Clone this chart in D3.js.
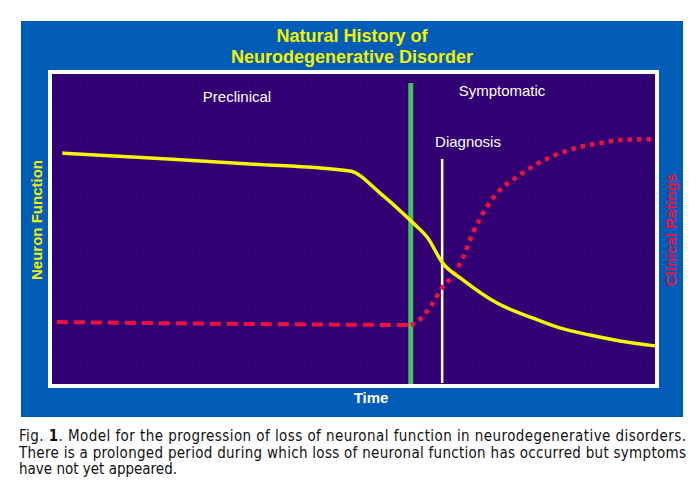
<!DOCTYPE html>
<html>
<head>
<meta charset="utf-8">
<script src="https://cdn.jsdelivr.net/npm/d3@7"></script>
<style>
  html, body { margin: 0; padding: 0; background: #fff; }
  svg { display: block; }
</style>
</head>
<body>
<svg id="chart" width="700" height="495"></svg>
<script>
// ---- Data (x: time 0-100, y: relative level 0-100) ----
const titleLines = ["Natural History of", "Neurodegenerative Disorder"];
const phaseLabels = ["Preclinical", "Symptomatic", "Diagnosis"];
const axisLabels = { x: "Time", yLeft: "Neuron Function", yRight: "Clinical Ratings" };
const captionLines = [
  "Model for the progression of loss of neuronal function in neurodegenerative disorders.",
  "There is a prolonged period during which loss of neuronal function has occurred but symptoms",
  "have not yet appeared."
];

const neuronTime  = [1.7, 16.3, 32.8, 49.4, 54.4, 59.9, 62.2, 64.8, 68.2, 73.8, 79.3, 84.2, 89.2, 94.2, 100];
const neuronValue = [74.5, 72.9, 71.0, 68.7, 61.6, 51.9, 47.4, 39.0, 33.5, 26.1, 21.6, 18.1, 15.8, 13.9, 12.3];

const clinicalPreTime  = [0.8, 24.5, 59.5];
const clinicalPreValue = [20.0, 19.5, 19.0];

const clinicalPostTime  = [59.5, 60.5, 62.7, 64.8, 66.8, 68.2, 69.8, 72.1, 74.3, 77.1, 79.3, 87.6, 90.9, 94.2, 100];
const clinicalPostValue = [19.0, 20.0, 24.8, 31.3, 35.8, 41.0, 48.7, 57.1, 62.6, 66.8, 69.7, 76.5, 77.7, 78.7, 79.0];

const onsetTime = 59.5, onsetTop = 97.1;        // green line (symptom onset)
const diagnosisTime = 64.7, diagnosisTop = 72.6; // white line (diagnosis)

// ---- Drawing ----
const svg = d3.select("#chart");
const defs = svg.append("defs");

const pBlue = defs.append("pattern").attr("id", "dotsBlue").attr("width", 8).attr("height", 8)
  .attr("patternUnits", "userSpaceOnUse");
pBlue.append("rect").attr("width", 8).attr("height", 8).attr("fill", "#005cb6");
pBlue.append("rect").attr("x", 3).attr("y", 3).attr("width", 1).attr("height", 1).attr("fill", "#2f78c4");

const pPurp = defs.append("pattern").attr("id", "dotsPurple").attr("width", 7).attr("height", 7)
  .attr("patternUnits", "userSpaceOnUse");
pPurp.append("rect").attr("width", 7).attr("height", 7).attr("fill", "#310072");
pPurp.append("rect").attr("x", 3).attr("y", 3).attr("width", 1).attr("height", 1).attr("fill", "#3d0a78");

// Blue panel
svg.append("rect").attr("x", 21).attr("y", 21).attr("width", 662).attr("height", 396)
  .attr("fill", "url(#dotsBlue)");

// Title
svg.append("g").selectAll("text").data(titleLines).join("text")
  .attr("x", 352).attr("y", (d, i) => 42 + i * 20.5)
  .attr("text-anchor", "middle")
  .attr("font-family", "'Liberation Sans', Arial, sans-serif")
  .attr("font-weight", "bold").attr("font-size", 18)
  .attr("fill", "#f2f200")
  .text(d => d);

// Plot frame
const plot = { left: 52, right: 655, top: 74, bottom: 384 };
svg.append("rect").attr("x", plot.left - 4).attr("y", plot.top - 4)
  .attr("width", plot.right - plot.left + 8).attr("height", plot.bottom - plot.top + 8)
  .attr("fill", "#ffffff");
svg.append("rect").attr("x", plot.left).attr("y", plot.top)
  .attr("width", plot.right - plot.left).attr("height", plot.bottom - plot.top)
  .attr("fill", "url(#dotsPurple)");

const x = d3.scaleLinear().domain([0, 100]).range([plot.left, plot.right]);
const y = d3.scaleLinear().domain([0, 100]).range([plot.bottom, plot.top]);

const g = svg.append("g");

// Green onset line
g.append("line")
  .attr("x1", x(onsetTime)).attr("x2", x(onsetTime))
  .attr("y1", y(onsetTop)).attr("y2", y(0))
  .attr("stroke", "#46c062").attr("stroke-width", 5);

// White diagnosis line
g.append("line")
  .attr("x1", x(diagnosisTime)).attr("x2", x(diagnosisTime))
  .attr("y1", y(diagnosisTop)).attr("y2", y(0) - 1)
  .attr("stroke", "#ffffff").attr("stroke-width", 2.5);

const line = d3.line().x(d => x(d[0])).y(d => y(d[1])).curve(d3.curveMonotoneX);

// Clinical ratings - dashed part (preclinical)
g.append("path")
  .datum(d3.zip(clinicalPreTime, clinicalPreValue))
  .attr("d", line)
  .attr("fill", "none").attr("stroke", "#ee1040").attr("stroke-width", 4)
  .attr("stroke-dasharray", "11,6");

// Clinical ratings - dotted part (symptomatic)
g.append("path")
  .datum(d3.zip(clinicalPostTime, clinicalPostValue))
  .attr("d", line)
  .attr("fill", "none").attr("stroke", "#ee1040").attr("stroke-width", 4.5)
  .attr("stroke-dasharray", "4.5,5");

// Neuron function - yellow solid
g.append("path")
  .datum(d3.zip(neuronTime, neuronValue))
  .attr("d", line)
  .attr("fill", "none").attr("stroke", "#f6f600").attr("stroke-width", 3.5)
  .attr("stroke-linejoin", "round");

// Phase labels
const labelFont = "'Liberation Sans', Arial, sans-serif";
const labelPos = [[237, 102], [502, 96], [468, 147]];
g.selectAll("text.phase").data(phaseLabels).join("text")
  .attr("class", "phase")
  .attr("x", (d, i) => labelPos[i][0]).attr("y", (d, i) => labelPos[i][1])
  .attr("text-anchor", "middle")
  .attr("font-family", labelFont).attr("font-size", 15)
  .attr("fill", "#ffffff")
  .text(d => d);

// Axis titles
svg.append("text")
  .attr("x", 371).attr("y", 403).attr("text-anchor", "middle")
  .attr("font-family", labelFont).attr("font-weight", "bold").attr("font-size", 15)
  .attr("fill", "#ffffff").text(axisLabels.x);

svg.append("text")
  .attr("transform", "translate(41.5,220) rotate(-90)")
  .attr("text-anchor", "middle")
  .attr("font-family", labelFont).attr("font-weight", "bold").attr("font-size", 15)
  .attr("fill", "#f2f200").text(axisLabels.yLeft);

svg.append("text")
  .attr("transform", "translate(676,230) rotate(-90)")
  .attr("text-anchor", "middle")
  .attr("font-family", labelFont).attr("font-weight", "bold").attr("font-size", 15)
  .attr("fill", "#ee1040").text(axisLabels.yRight);

// Caption
const capFont = "'Liberation Sans Narrow', 'DejaVu Sans Condensed', 'Liberation Sans', sans-serif";
const cap = svg.append("g").attr("font-family", capFont).attr("font-size", 15).attr("fill", "#111");
const c1 = cap.append("text").attr("x", 19).attr("y", 441)
  .attr("textLength", 667).attr("lengthAdjust", "spacing");
c1.append("tspan").text("Fig. ");
c1.append("tspan").attr("font-weight", "bold").text("1");
c1.append("tspan").text(". " + captionLines[0]);
cap.append("text").attr("x", 19).attr("y", 457.5)
  .attr("textLength", 667).attr("lengthAdjust", "spacing").text(captionLines[1]);
cap.append("text").attr("x", 19).attr("y", 474).text(captionLines[2]);
</script>
</body>
</html>
